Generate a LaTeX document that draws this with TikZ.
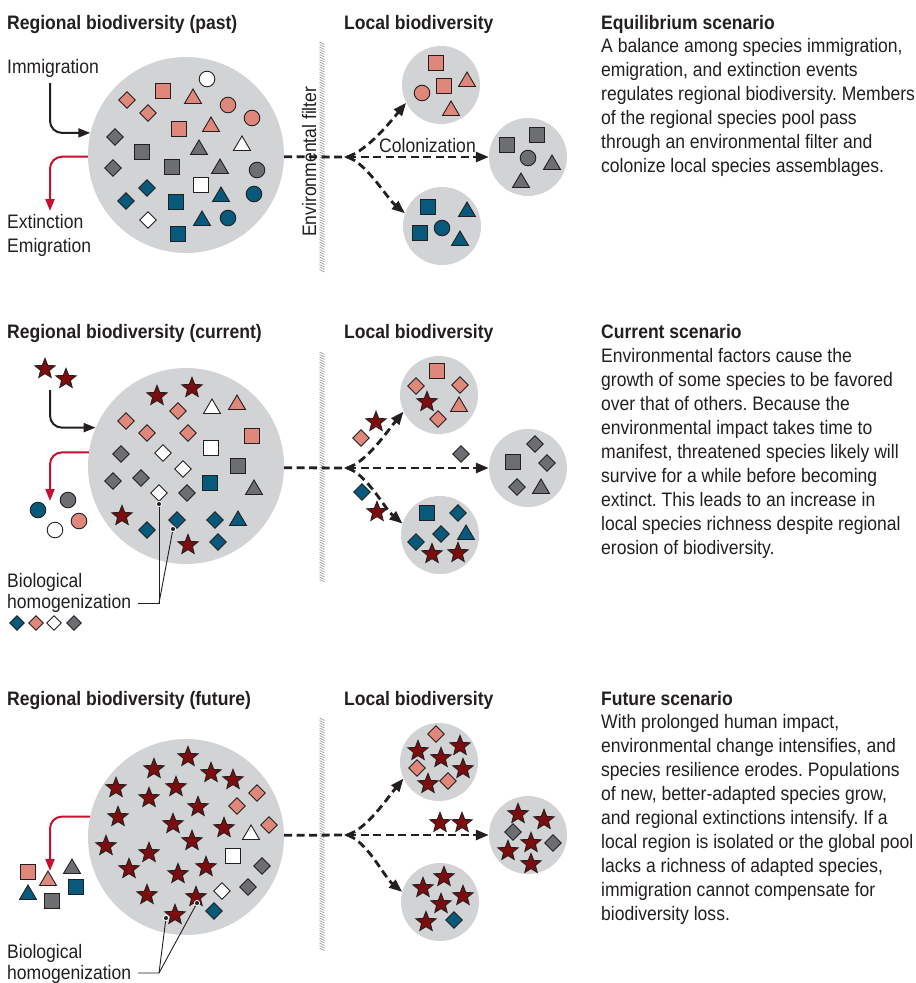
\documentclass[tikz,border=0pt]{standalone}
\usepackage{fontspec}
\setmainfont{Liberation Sans}[FakeStretch=0.9]
\usetikzlibrary{arrows.meta}
\definecolor{bgc}{HTML}{D1D3D4}
\definecolor{sal}{HTML}{E0877B}
\definecolor{gry}{HTML}{6D6E71}
\definecolor{tea}{HTML}{075A7C}
\definecolor{strc}{HTML}{7D0C0E}
\definecolor{redar}{HTML}{C8102E}
\definecolor{ink}{HTML}{231F20}
\definecolor{hatchc}{HTML}{8A8B8D}
\newcommand\spset[1]{\foreach \xa/\ya/\sa/\ca in {#1}{\edef\tmpx{\noexpand\pic at (\xa,\ya) {\sa=\ca};}\tmpx}}
\tikzset{
  shp/.style={draw=ink,line width=0.9pt,line join=miter},
  sq/.pic={\draw[shp,fill=#1] (-7.5,-7.5) rectangle (7.5,7.5);},
  ci/.pic={\draw[shp,fill=#1] (0,0) circle (7.8);},
  tri/.pic={\draw[shp,fill=#1] (0,-8) -- (8.5,6.5) -- (-8.5,6.5) -- cycle;},
  dia/.pic={\draw[shp,fill=#1] (0,-8.3) -- (8.3,0) -- (0,8.3) -- (-8.3,0) -- cycle;},
  dias/.pic={\draw[shp,fill=#1] (0,-7.3) -- (7.3,0) -- (0,7.3) -- (-7.3,0) -- cycle;},
  st/.pic={\draw[shp,fill=#1] (0,-9.6) -- (2.75,-2.6) -- (10.1,-2.2) -- (4.4,2.4) -- (6.2,9.4) -- (0,5.6) -- (-6.2,9.4) -- (-4.4,2.4) -- (-10.1,-2.2) -- (-2.75,-2.6) -- cycle;},
}
\begin{document}
\frenchspacing
\begin{tikzpicture}[x=1pt,y=-1pt,
  font=\fontsize{19.5}{24}\selectfont\frenchspacing, text=ink,
  bigc/.style={circle,fill=bgc,minimum size=196pt,inner sep=0pt},
  locc/.style={circle,fill=bgc,minimum size=78pt,inner sep=0pt},
  ttl/.style={anchor=base west,inner sep=0pt,font=\fontsize{19.5}{24}\selectfont\bfseries},
  lbl/.style={anchor=base west,inner sep=0pt},
  dsh/.style={draw=ink,line width=2.8pt,dash pattern=on 8pt off 4.5pt},
  conn/.style={dsh,-{Triangle[length=13pt,width=10pt]}},
  blk/.style={draw=ink,line width=2pt,rounded corners=12pt,-{Triangle[length=12pt,width=9pt]}},
  redarr/.style={draw=redar,line width=2pt,rounded corners=12pt,-{Triangle[length=12pt,width=9pt]}},
  hatch/.style={draw=hatchc,line width=0.5pt},
  hline/.style={draw=ink,line width=0.9pt},
  hdot/.style={fill=ink,draw=white,line width=0.8pt},
  rot/.style={rotate=90,anchor=base west,inner sep=0pt}
]
\useasboundingbox (0,0) rectangle (916,983);
\fill[white] (0,0) rectangle (916,983);

%================ PANEL 1 =================
\node[bigc] (B1) at (186,155) {};
\node[locc] (u1) at (441,85) {};
\node[locc] (m1) at (528,157) {};
\node[locc] (l1) at (442,226) {};
\coordinate (j1) at (348,157);

\node[ttl] (t1a) at (7,29) {Regional biodiversity (past)};
\node[ttl] (t1b) at (344,29) {Local biodiversity};
\node[ttl] (t1c) at (601,29) {Equilibrium scenario};
\node[lbl] (d1) at (601,52.3) {\begin{tabular}[t]{@{}l@{}}A balance among species immigration,\\ emigration, and extinction events\\ regulates regional biodiversity. Members\\ of the regional species pool pass\\ through an environmental filter and\\ colonize local species assemblages.\end{tabular}};

\node[lbl] (im1) at (7,73) {Immigration};
\node[lbl] (ex1t) at (7,228) {Extinction};
\node[lbl] (em1t) at (7,252) {Emigration};

\foreach \yy in {42,44.5,...,270} \draw[hatch] (319.5,\yy) -- (324.5,\yy+2.5);
\node[rot] (f1) at (316,237) {Environmental filter};

\coordinate (im1s) at (50,83);
\draw[blk] (im1s) |- (B1.167);
\coordinate (ex1e) at (50,211);
\draw[redarr] (B1.181) -| (ex1e);

\draw[dsh] (B1.-1) -- (j1);
\draw[conn] (j1) .. controls +(20,-8) and +(-18,22) .. (u1.207);
\draw[conn] (j1) -- (m1);
\draw[conn] (j1) .. controls +(20,8) and +(-18,-15) .. (l1.161);
\fill[ink] (j1) ++(-4,0) -- ++(9,-4) -- ++(0,8) -- cycle;
\node[lbl] (col1) at (379,152) {Colonization};

\spset{207/79/ci/white, 163/91/sq/sal, 193/97/tri/sal, 127/100/dia/sal, 228/105/ci/sal, 148/113/dia/sal, 252/118/ci/sal, 179/129/sq/sal, 211/125/tri/sal, 115/137/dia/gry, 242/144/tri/white, 142/152/sq/gry, 199/148/tri/gry, 113/168/dia/gry, 172/167/sq/gry, 220/167/tri/gry, 257/170/ci/gry, 201/185/sq/white, 147/188/dia/tea, 221/195/tri/tea, 254/194/ci/tea, 126/201/dia/tea, 176/202/sq/tea, 148/220/dia/white, 202/219/tri/tea, 228/218/ci/tea, 178/234/sq/tea}
\spset{436/63/sq/sal, 444/86/sq/sal, 467/80/tri/sal, 422/93/ci/sal, 451/109/tri/sal, 537/135/sq/gry, 507/145/sq/gry, 528/158/ci/gry, 552/163/tri/gry, 521/181/tri/gry, 428/207/sq/tea, 467/210/tri/tea, 442/228/ci/tea, 420/233/sq/tea, 460/239/tri/tea}

%================ PANEL 2 =================
\node[bigc] (B2) at (186,466) {};
\node[locc] (u2) at (439,395) {};
\node[locc] (m2) at (528,468) {};
\node[locc] (l2) at (440,535) {};
\coordinate (j2) at (348,468);

\node[ttl] (t2a) at (7,338) {Regional biodiversity (current)};
\node[ttl] (t2b) at (344,338) {Local biodiversity};
\node[ttl] (t2c) at (601,338) {Current scenario};
\node[lbl] (d2) at (601,362) {\begin{tabular}[t]{@{}l@{}}Environmental factors cause the\\ growth of some species to be favored\\ over that of others. Because the\\ environmental impact takes time to\\ manifest, threatened species likely will\\ survive for a while before becoming\\ extinct. This leads to an increase in\\ local species richness despite regional\\ erosion of biodiversity.\end{tabular}};

\foreach \yy in {352,354.5,...,580} \draw[hatch] (319.5,\yy) -- (324.5,\yy+2.5);

\coordinate (im2s) at (50,390);
\draw[blk] (im2s) |- (B2.157);
\coordinate (ex2e) at (50,501);
\draw[redarr] (B2.172) -| (ex2e);

\draw[dsh] (B2.-1) -- (j2);
\draw[conn] (j2) .. controls +(20,-8) and +(-18,22) .. (u2.205);
\draw[conn] (j2) -- (m2);
\draw[conn] (j2) .. controls +(20,8) and +(-18,-15) .. (l2.163);
\fill[ink] (j2) ++(-4,0) -- ++(9,-4) -- ++(0,8) -- cycle;

\spset{157/395/st/strc, 192/387/st/strc, 178/411/dia/sal, 212/407/tri/white, 237/403/tri/sal, 126/421/dia/sal, 147/433/dia/sal, 188/433/dia/sal, 252/436/sq/sal, 211/448/sq/white, 121/454/dia/gry, 163/453/dia/white, 238/466/sq/gry, 183/469/dia/white, 113/481/dia/gry, 141/478/dia/gry, 210/483/sq/tea, 254/488/tri/gry, 159/493/dia/white, 187/493/dia/gry, 122/515/st/strc, 177/520/dia/tea, 215/520/dia/tea, 238/519/tri/tea, 147/530/dia/tea, 188/544/st/strc, 218/542/dia/tea}
\spset{45/368/st/strc, 66/378/st/strc, 38/510/ci/tea, 68/500/ci/gry, 55/530/ci/white, 79/521/ci/sal, 17/623/dias/tea, 36/623/dias/sal, 54/623/dias/white, 74/623/dias/gry}
\spset{437/371/sq/sal, 416/386/dia/sal, 460/385/dia/sal, 427/401/st/strc, 459/405/tri/sal, 438/419/dia/sal, 376/421/st/strc, 361/438/dia/sal, 535/444/dia/gry, 513/462/sq/gry, 547/463/dia/gry, 517/487/dia/gry, 541/487/tri/gry, 461/454/dia/gry, 427/513/sq/tea, 458/513/dia/tea, 441/534/dia/tea, 466/533/tri/tea, 416/542/dia/tea, 432/553/st/strc, 458/552/st/strc, 362/492/dia/tea, 377/511/st/strc}

\node[lbl] (bio2) at (7,587) {Biological};
\node[lbl] (hom2) at (7,608) {homogenization};
\coordinate (h2a) at (159,504);
\coordinate (h2b) at (173,529);
\coordinate (h2j) at (159,603);
\coordinate (h2e) at (138,603);
\draw[hline] (h2a) -- (h2j) -- (h2e);
\draw[hline] (h2b) -- (h2j);
\draw[hdot] (h2a) circle (2.6);
\draw[hdot] (h2b) circle (2.6);

%================ PANEL 3 =================
\node[bigc] (B3) at (186,837) {};
\node[locc] (u3) at (439,762) {};
\node[locc] (m3) at (528,835) {};
\node[locc] (l3) at (440,902) {};
\coordinate (j3) at (348,835);

\node[ttl] (t3a) at (7,705) {Regional biodiversity (future)};
\node[ttl] (t3b) at (344,705) {Local biodiversity};
\node[ttl] (t3c) at (601,705) {Future scenario};
\node[lbl] (d3) at (601,728) {\begin{tabular}[t]{@{}l@{}}With prolonged human impact,\\ environmental change intensifies, and\\ species resilience erodes. Populations\\ of new, better-adapted species grow,\\ and regional extinctions intensify. If a\\ local region is isolated or the global pool\\ lacks a richness of adapted species,\\ immigration cannot compensate for\\ biodiversity loss.\end{tabular}};

\foreach \yy in {718,720.5,...,948} \draw[hatch] (319.5,\yy) -- (324.5,\yy+2.5);

\coordinate (ex3e) at (50,871);
\draw[redarr] (B3.168) -| (ex3e);

\draw[dsh] (B3.1) -- (j3);
\draw[conn] (j3) .. controls +(20,-8) and +(-18,22) .. (u3.205);
\draw[conn] (j3) -- (m3);
\draw[conn] (j3) .. controls +(20,8) and +(-18,-15) .. (l3.165);
\fill[ink] (j3) ++(-4,0) -- ++(9,-4) -- ++(0,8) -- cycle;

\spset{188/756/st/strc, 154/768/st/strc, 211/772/st/strc, 233/779/st/strc, 116/787/st/strc, 176/786/st/strc, 149/797/st/strc, 198/806/st/strc, 118/816/st/strc, 173/823/st/strc, 224/827/st/strc, 192/840/st/strc, 106/845/st/strc, 149/852/st/strc, 129/868/st/strc, 206/866/st/strc, 178/873/st/strc, 147/894/st/strc, 196/896/st/strc, 175/914/st/strc}
\spset{257/793/dia/sal, 237/806/dia/sal, 269/825/dia/sal, 251/833/tri/white, 233/856/sq/white, 262/866/dia/gry, 222/891/dia/white, 248/887/dia/gry, 214/911/dia/tea}
\spset{28/872/sq/sal, 48/879/tri/sal, 72/867/tri/gry, 28/893/tri/tea, 52/901/sq/gry, 76/887/sq/tea}
\spset{436/734/dia/sal, 418/750/st/strc, 460/745/st/strc, 441/757/st/strc, 417/768/dia/sal, 463/768/st/strc, 428/783/st/strc, 448/781/dia/sal, 440/822/st/strc, 462/822/st/strc, 518/813/st/strc, 544/819/st/strc, 513/832/dia/gry, 531/842/st/strc, 553/843/dia/gry, 508/850/st/strc, 531/863/st/strc, 444/876/st/strc, 423/887/st/strc, 463/895/st/strc, 441/903/st/strc, 426/921/st/strc, 454/920/dia/tea}

\node[lbl] (bio3) at (7,958) {Biological};
\node[lbl] (hom3) at (7,979) {homogenization};
\coordinate (h3a) at (197,903);
\coordinate (h3b) at (166,918);
\coordinate (h3j) at (159,973);
\coordinate (h3e) at (138,973);
\draw[hline] (h3a) -- (h3j) -- (h3e);
\draw[hline] (h3b) -- (h3j);
\draw[hdot] (h3a) circle (2.6);
\draw[hdot] (h3b) circle (2.6);
\end{tikzpicture}
\end{document}
